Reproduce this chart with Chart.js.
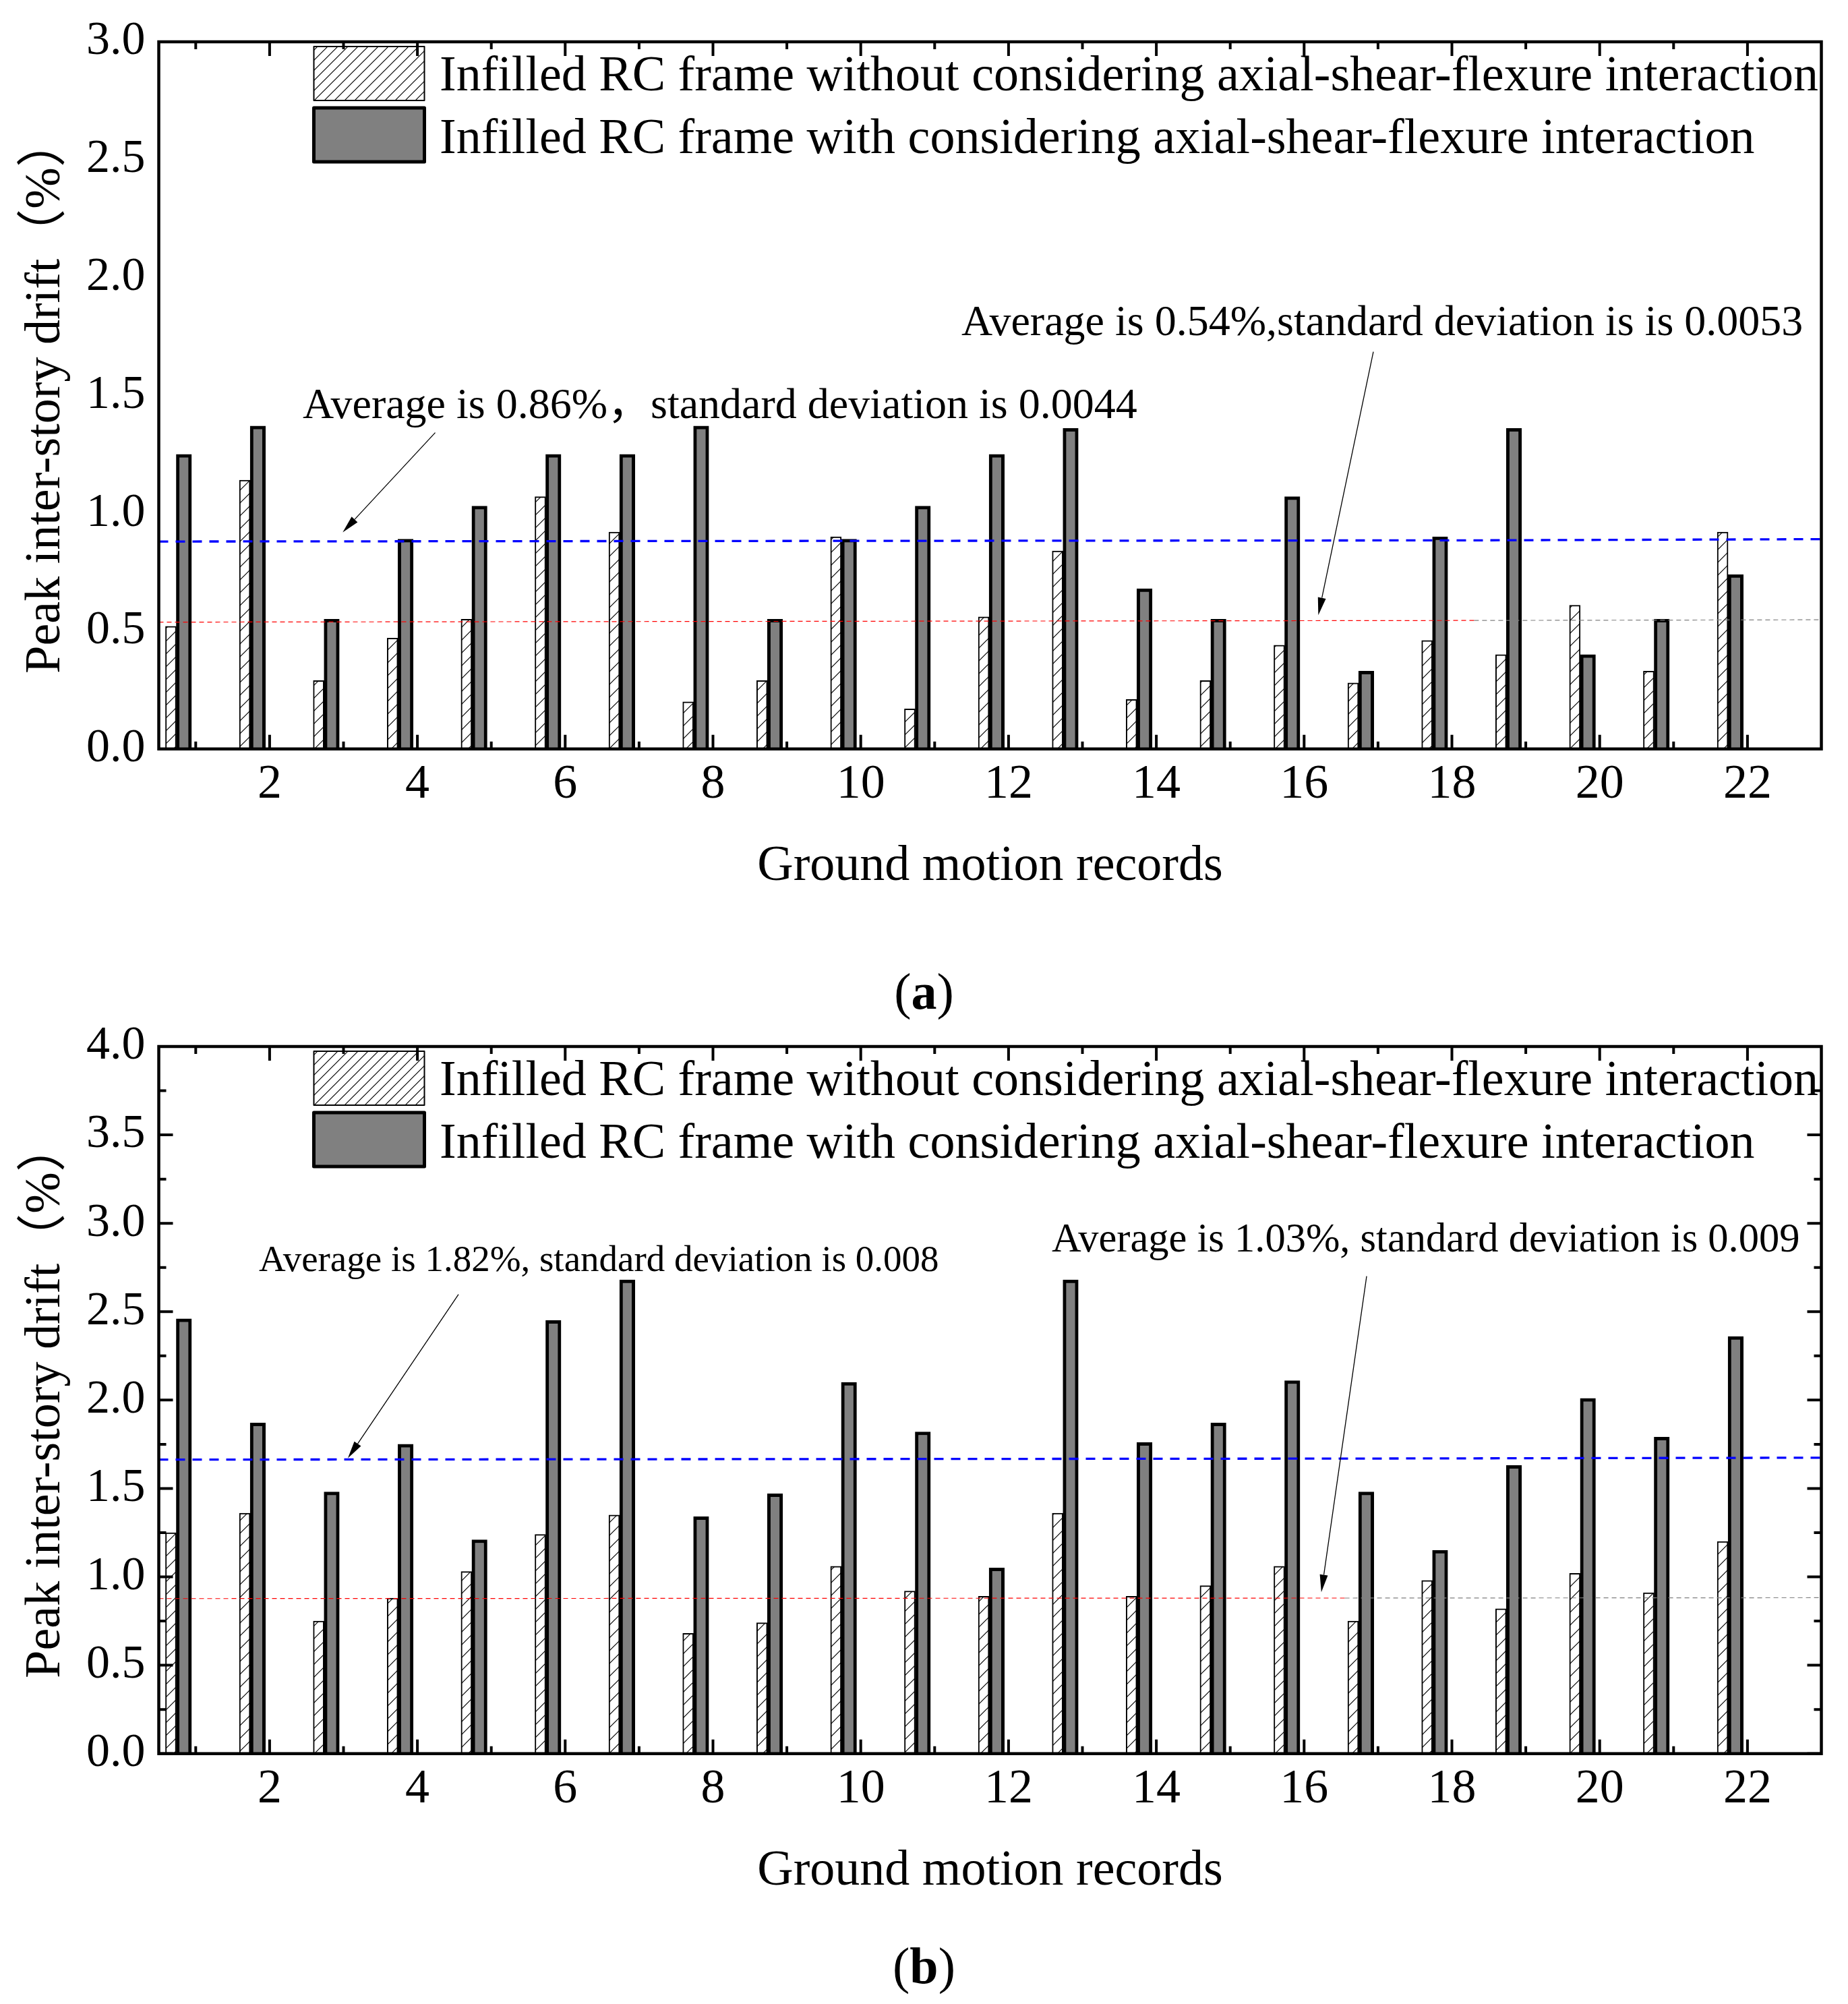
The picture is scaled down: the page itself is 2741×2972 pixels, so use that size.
<!DOCTYPE html>
<html>
<head>
<meta charset="utf-8">
<script src="https://cdn.jsdelivr.net/npm/chart.js@4.4.1/dist/chart.umd.min.js"></script>
<style>
  html, body { margin: 0; padding: 0; background: #fff; }
  body { width: 2741px; height: 2972px; position: relative; overflow: hidden; }
  canvas { position: absolute; left: 0; }
  #chartA { top: 0; }
  #chartB { top: 1490px; }
  .caption { position: absolute; left: 0; width: 2741px; text-align: center;
    font-family: 'Liberation Serif', serif; font-size: 76px; line-height: 76px; color: #000; }
</style>
</head>
<body>
<canvas id="chartA" width="2741" height="1380"></canvas>
<canvas id="chartB" width="2741" height="1380"></canvas>
<div class="caption" style="top:1432px">(<b>a</b>)</div>
<div class="caption" style="top:2877px">(<b>b</b>)</div>
<script>
// Ground motion records and tick labels
const records = [1, 2, 3, 4, 5, 6, 7, 8, 9, 10, 11, 12, 13, 14, 15, 16, 17, 18, 19, 20, 21, 22];
const xTickLabels = [2, 4, 6, 8, 10, 12, 14, 16, 18, 20, 22];
const seriesNames = [
  "Infilled RC frame without considering axial-shear-flexure interaction",
  "Infilled RC frame with considering axial-shear-flexure interaction"
];

// (a) peak inter-story drift (%)
const withoutA = [0.52, 1.14, 0.29, 0.47, 0.55, 1.07, 0.92, 0.20, 0.29, 0.90, 0.17,
                  0.56, 0.84, 0.21, 0.29, 0.44, 0.28, 0.46, 0.40, 0.61, 0.33, 0.92];
const withA = [1.25, 1.37, 0.55, 0.89, 1.03, 1.25, 1.25, 1.37, 0.55, 0.89, 1.03,
               1.25, 1.36, 0.68, 0.55, 1.07, 0.33, 0.90, 1.36, 0.40, 0.55, 0.74];

// (b) peak inter-story drift (%)
const withoutB = [1.25, 1.36, 0.75, 0.88, 1.03, 1.24, 1.35, 0.68, 0.74, 1.06, 0.92,
                  0.89, 1.36, 0.89, 0.95, 1.06, 0.75, 0.98, 0.82, 1.02, 0.91, 1.20];
const withB = [2.46, 1.87, 1.48, 1.75, 1.21, 2.45, 2.68, 1.34, 1.47, 2.10, 1.82,
               1.05, 2.68, 1.76, 1.87, 2.11, 1.48, 1.15, 1.63, 2.01, 1.79, 2.36];

// average lines (x in record units, y in %)
const avgXA = [0.5, 18.3, 23];
const avgWithA = [0.88, 0.885, 0.89];
const avgWithoutA = [0.538, 0.545, 0.548];
const avgXB = [0.5, 16.55, 23];
const avgWithB = [1.663, 1.669, 1.674];
const avgWithoutB = [0.877, 0.88, 0.882];

const FONT = "'Liberation Serif', 'Noto Sans CJK SC', serif";

// diagonal hatch fill like the Origin pattern
function hatch(step, lw) {
  const c = document.createElement("canvas");
  c.width = c.height = step;
  const g = c.getContext("2d");
  g.fillStyle = "#fff";
  g.fillRect(0, 0, step, step);
  g.strokeStyle = "#000";
  g.lineWidth = lw;
  g.beginPath();
  g.moveTo(0, step); g.lineTo(step, 0);
  g.moveTo(-step / 2, step / 2); g.lineTo(step / 2, -step / 2);
  g.moveTo(step / 2, step * 1.5); g.lineTo(step * 1.5, step / 2);
  g.stroke();
  return g.createPattern(c, "repeat");
}

function arrow(ctx, x0, y0, x1, y1) {
  const ang = Math.atan2(y1 - y0, x1 - x0);
  const len = 26, hw = 6;
  const bx = x1 - len * Math.cos(ang), by = y1 - len * Math.sin(ang);
  ctx.lineWidth = 1.3;
  ctx.beginPath();
  ctx.moveTo(x0, y0);
  ctx.lineTo(bx, by);
  ctx.stroke();
  ctx.beginPath();
  ctx.moveTo(x1, y1);
  ctx.lineTo(bx + hw * Math.sin(ang), by - hw * Math.cos(ang));
  ctx.lineTo(bx - hw * Math.sin(ang), by + hw * Math.cos(ang));
  ctx.closePath();
  ctx.fill();
}

// hidden axis for one bar series, shifted left of the record ticks
function barAxis(shift) {
  return {
    type: "linear",
    display: false,
    offset: false,
    min: 0.5 + shift,
    max: 23 + shift,
    grid: { offset: false }
  };
}

function buildChart(id, without, withVals, yMax, avgX, avgHigh, avgLow, notes, yTicks) {
  const H = document.getElementById(id).height;

  // annotations, legend, frame and inside ticks
  const decor = {
    id: "decor",
    afterDatasetsDraw(chart) {
      const { ctx, chartArea: a, scales } = chart;
      const x = scales.x, y = scales.y;
      ctx.save();
      ctx.fillStyle = "#000";
      ctx.strokeStyle = "#000";
      ctx.textAlign = "left";
      ctx.textBaseline = "alphabetic";

      notes.forEach(n => {
        ctx.font = n.size + "px " + FONT;
        ctx.fillText(n.text, x.getPixelForValue(n.at[0]), y.getPixelForValue(n.at[1]));
        arrow(ctx, x.getPixelForValue(n.from[0]), y.getPixelForValue(n.from[1]),
              x.getPixelForValue(n.to[0]), y.getPixelForValue(n.to[1]));
      });

      // legend inside the plot
      const ds = chart.data.datasets;
      const boxL = a.left + 230, boxW = 164, boxH = 80;
      [0, 1].forEach(i => {
        const top = a.top + 7 + i * 91;
        ctx.fillStyle = i === 0 ? hatch(15, 1.2) : ds[i].backgroundColor;
        ctx.fillRect(boxL, top, boxW, boxH);
        ctx.lineWidth = ds[i].borderWidth;
        ctx.lineJoin = "round";
        ctx.strokeRect(boxL, top, boxW, boxH);
        ctx.fillStyle = "#000";
        ctx.font = "74px " + FONT;
        ctx.fillText(ds[i].label, a.left + 416.5, a.top + 72 + i * 93);
      });

      // frame
      ctx.lineWidth = 4.5;
      ctx.lineJoin = "miter";
      ctx.strokeRect(a.left, a.top, a.width, a.height);

      // x ticks pointing inward, top and bottom
      ctx.lineWidth = 4;
      ctx.beginPath();
      records.forEach(r => {
        const px = x.getPixelForValue(r);
        const len = r % 2 === 0 ? 21 : 11;
        ctx.moveTo(px, a.bottom); ctx.lineTo(px, a.bottom - len);
        ctx.moveTo(px, a.top); ctx.lineTo(px, a.top + len);
      });
      if (yTicks) {
        const vals = y.ticks.map(t => t.value);
        vals.forEach((v, i) => {
          const marks = [[v, 21]];
          if (i < vals.length - 1) marks.push([(v + vals[i + 1]) / 2, 11]);
          marks.forEach(([mv, len]) => {
            const py = y.getPixelForValue(mv);
            ctx.moveTo(a.left, py); ctx.lineTo(a.left + len, py);
            ctx.moveTo(a.right, py); ctx.lineTo(a.right - len, py);
          });
        });
      }
      ctx.stroke();
      ctx.restore();
    }
  };

  return new Chart(document.getElementById(id), {
    type: "bar",
    data: {
      datasets: [
        {
          label: seriesNames[0],
          data: records.map((r, i) => ({ x: r, y: without[i] })),
          xAxisID: "xh",
          grouped: false,
          backgroundColor: hatch(19, 1.2),
          borderColor: "#000",
          borderWidth: 2,
          barThickness: 16
        },
        {
          label: seriesNames[1],
          data: records.map((r, i) => ({ x: r, y: withVals[i] })),
          xAxisID: "xd",
          grouped: false,
          backgroundColor: "#808080",
          borderColor: "#000",
          borderWidth: 5,
          barThickness: 22.6
        },
        {
          type: "line",
          data: avgX.map((v, i) => ({ x: v, y: avgHigh[i] })),
          xAxisID: "x",
          borderColor: "#0000ff",
          borderWidth: 3.3,
          borderDash: [14, 11],
          pointRadius: 0,
          order: -1
        },
        {
          type: "line",
          data: avgX.map((v, i) => ({ x: v, y: avgLow[i] })),
          xAxisID: "x",
          borderColor: "#ff0000",
          borderWidth: 1.2,
          borderDash: [7, 5],
          pointRadius: 0,
          order: -1,
          segment: { borderColor: c => (c.p0DataIndex === 0 ? "#ff0000" : "#808080") }
        }
      ]
    },
    options: {
      responsive: false,
      animation: false,
      devicePixelRatio: 1,
      events: [],
      layout: { padding: { left: 0, right: 39.5, top: 61, bottom: 0 } },
      plugins: { legend: { display: false }, tooltip: { enabled: false } },
      scales: {
        x: {
          type: "linear",
          position: "bottom",
          offset: false,
          min: 0.5,
          max: 23,
          afterBuildTicks: s => { s.ticks = xTickLabels.map(v => ({ value: v })); },
          afterFit: s => { s.height = H - 1110.7; },
          grid: { display: false, drawTicks: false, offset: false },
          border: { display: false },
          ticks: { font: { family: FONT, size: 72 }, color: "#000", padding: 10,
                   maxRotation: 0, autoSkip: false, callback: v => String(v) },
          title: { display: true, text: "Ground motion records", color: "#000",
                   font: { family: FONT, size: 74 }, padding: { top: 0, bottom: 50 } }
        },
        xh: barAxis(0.336),
        xd: barAxis(0.16),
        y: {
          min: 0,
          max: yMax,
          afterFit: s => { s.width = 235.5; },
          grid: { display: false, drawTicks: false },
          border: { display: false },
          ticks: { stepSize: 0.5, font: { family: FONT, size: 70 }, color: "#000", padding: 20,
                   callback: v => v.toFixed(1) },
          title: { display: true, text: "Peak inter-story drift（%）", color: "#000",
                   font: { family: FONT, size: 74 }, padding: { top: 24, bottom: 0 } }
        }
      }
    },
    plugins: [decor]
  });
}

buildChart("chartA", withoutA, withA, 3, avgXA, avgWithA, avgWithoutA, [
  { text: "Average is 0.86%，standard deviation is 0.0044", size: 64,
    at: [2.448, 1.405], from: [4.241, 1.342], to: [2.989, 0.919] },
  { text: "Average is 0.54%,standard deviation is is 0.0053", size: 64,
    at: [11.362, 1.757], from: [16.937, 1.685], to: [16.192, 0.568] }
], false);

buildChart("chartB", withoutB, withB, 4, avgXB, avgWithB, avgWithoutB, [
  { text: "Average is 1.82%, standard deviation is 0.008", size: 55,
    at: [1.855, 2.728], from: [4.556, 2.598], to: [3.059, 1.671] },
  { text: "Average is 1.03%, standard deviation is 0.009", size: 60.5,
    at: [12.585, 2.839], from: [16.846, 2.701], to: [16.233, 0.913] }
], true);
</script>
</body>
</html>
